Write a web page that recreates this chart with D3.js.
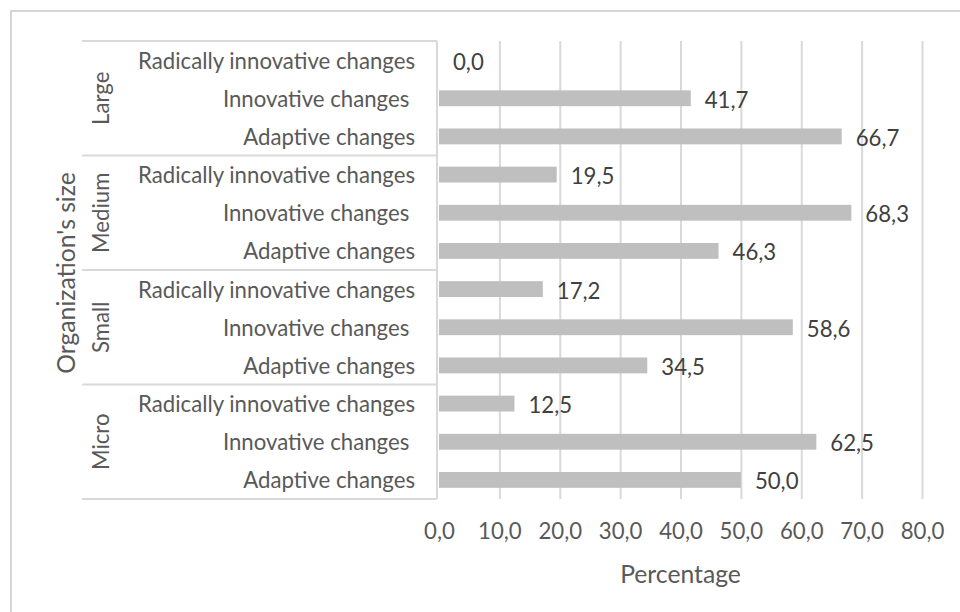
<!DOCTYPE html>
<html><head><meta charset="utf-8">
<script src="https://cdn.jsdelivr.net/npm/d3@7"></script>
<style>
body{margin:0;background:#fff}
text{font-family:Lato,"Open Sans",sans-serif}
</style>
</head><body>
<svg id="c" width="960" height="612"></svg>
<script>
// ---- data ----
const groups = ["Large", "Medium", "Small", "Micro"];
const changeTypes = ["Radically innovative changes", "Innovative changes ", "Adaptive changes"];
const largeValues  = [0.0, 41.7, 66.7];
const mediumValues = [19.5, 68.3, 46.3];
const smallValues  = [17.2, 58.6, 34.5];
const microValues  = [12.5, 62.5, 50.0];
const xTicks = [0, 10, 20, 30, 40, 50, 60, 70, 80];
const xTitle = "Percentage";
const yTitle = "Organization's size";

const valuesByGroup = [largeValues, mediumValues, smallValues, microValues];
const rows = [];
groups.forEach((g, gi) => changeTypes.forEach((c, ci) => rows.push({group: g, type: c, key: g + "|" + ci, value: valuesByGroup[gi][ci]})));

// ---- layout ----
const svg = d3.select("#c");
const plot = {left: 439, right: 922, top: 41, bottom: 499};
const tableLeft = 82;
const labelFont = 22.2, titleFont = 24.7;
const textGray = "#595959", valueGray = "#404040", gridGray = "#d9d9d9";

const x = d3.scaleLinear().domain([0, 80]).range([plot.left, plot.right]);
const y = d3.scaleBand().domain(rows.map(d => d.key)).range([plot.top, plot.bottom]).paddingInner(0.585).paddingOuter(0.2925);
const fmt = d3.formatLocale({decimal: ",", thousands: ".", grouping: [3], currency: ["", ""]}).format(".1f");

// outer chart border
svg.append("rect").attr("x", 11).attr("y", 11).attr("width", 1000).attr("height", 700)
  .attr("fill", "none").attr("stroke", "#c9c9c9").attr("stroke-width", 1.5);

// gridlines via axis
const grid = svg.append("g").attr("transform", `translate(0,${plot.top})`)
  .call(d3.axisBottom(x).tickValues(xTicks.slice(1)).tickSize(plot.bottom - plot.top).tickFormat(""));
grid.select(".domain").remove();
grid.selectAll(".tick line").attr("stroke", gridGray).attr("stroke-width", 2);

// x tick labels
const xa = svg.append("g").attr("transform", `translate(0,${plot.bottom})`)
  .call(d3.axisBottom(x).tickValues(xTicks).tickSize(0).tickPadding(24).tickFormat(fmt));
xa.select(".domain").remove();
xa.selectAll("text").attr("fill", textGray).style("font-size", labelFont + "px").style("font-family", "Lato");

// bars
svg.append("g").selectAll("rect").data(rows).join("rect")
  .attr("x", x(0)).attr("y", d => y(d.key))
  .attr("width", d => x(d.value) - x(0)).attr("height", y.bandwidth())
  .attr("fill", "#bfbfbf");

// value labels
svg.append("g").selectAll("text").data(rows).join("text")
  .attr("x", d => x(d.value) + 14).attr("y", d => y(d.key) + y.bandwidth() / 2 + 1)
  .attr("dominant-baseline", "central")
  .attr("fill", valueGray).style("font-size", labelFont + "px")
  .text(d => fmt(d.value));

// category table lines
const groupBand = (plot.bottom - plot.top) / groups.length;
const tbl = svg.append("g");
d3.range(groups.length + 1).forEach(i => {
  const yy = plot.top + i * groupBand;
  tbl.append("line").attr("x1", tableLeft).attr("x2", plot.left - 2).attr("y1", yy).attr("y2", yy)
    .attr("stroke", gridGray).attr("stroke-width", 2);
});
tbl.append("line").attr("x1", plot.left - 2).attr("x2", plot.left - 2).attr("y1", plot.top).attr("y2", plot.bottom)
  .attr("stroke", gridGray).attr("stroke-width", 2);

// category labels
svg.append("g").selectAll("text").data(rows).join("text")
  .attr("x", 415).attr("y", d => y(d.key) + y.bandwidth() / 2)
  .attr("text-anchor", "end").attr("dominant-baseline", "central")
  .style("white-space", "pre")
  .attr("fill", textGray).style("font-size", labelFont + "px")
  .text(d => d.type);

// group labels
svg.append("g").selectAll("text").data(groups).join("text")
  .attr("transform", (d, i) => `translate(100,${plot.top + (i + 0.5) * groupBand}) rotate(-90)`)
  .attr("text-anchor", "middle").attr("dominant-baseline", "central")
  .attr("fill", textGray).style("font-size", labelFont + "px")
  .text(d => d);

// axis titles
svg.append("text").attr("transform", `translate(65,273) rotate(-90)`)
  .attr("text-anchor", "middle").attr("dominant-baseline", "central")
  .attr("fill", textGray).style("font-size", titleFont + "px").text(yTitle);
svg.append("text").attr("x", (plot.left + plot.right) / 2).attr("y", 573)
  .attr("text-anchor", "middle").attr("dominant-baseline", "central")
  .attr("fill", textGray).style("font-size", titleFont + "px").text(xTitle);
</script>
</body></html>
